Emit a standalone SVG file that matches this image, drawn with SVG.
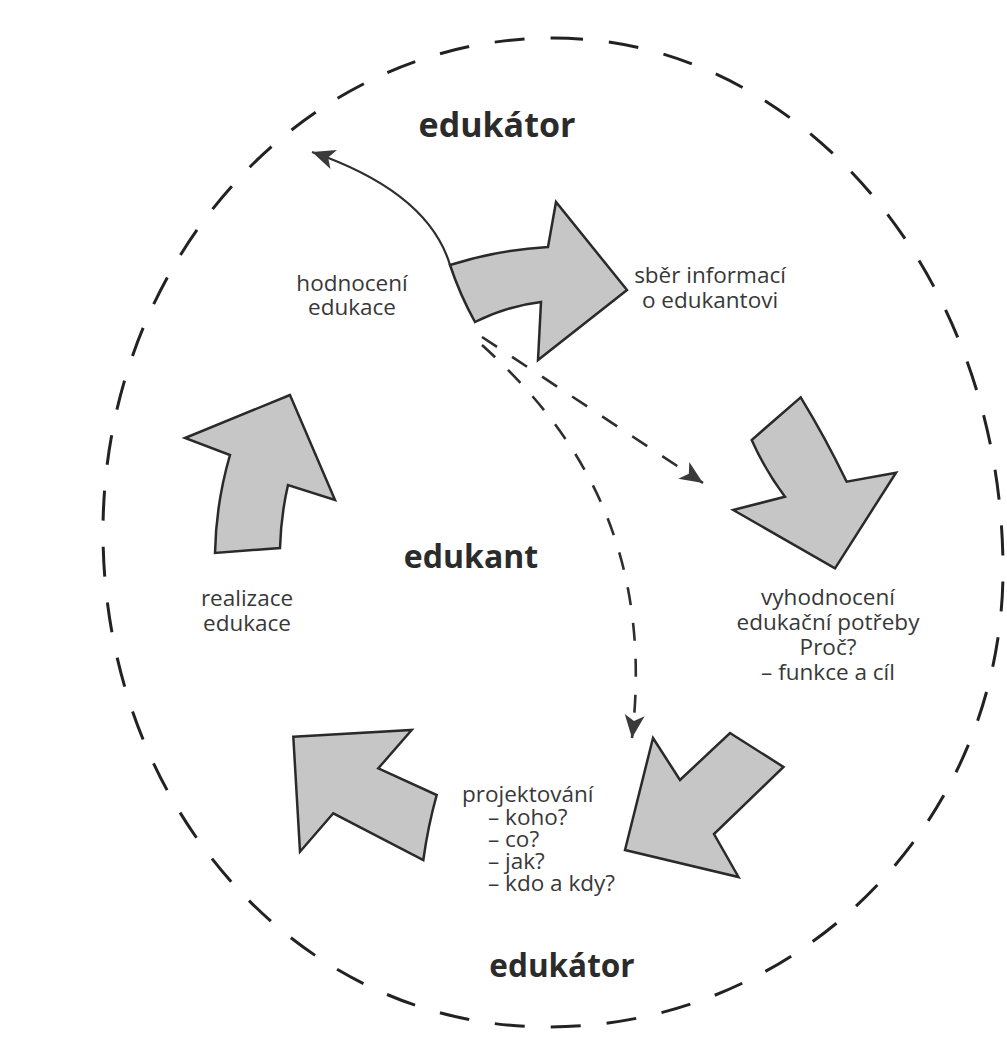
<svg xmlns="http://www.w3.org/2000/svg" width="1007" height="1042" viewBox="0 0 1007 1042">
<style>
.bg{fill:#ffffff}
.ring{fill:none;stroke:#222;stroke-width:3;stroke-dasharray:30 26}
.blk{fill:#c6c6c6;stroke:#2a2a2a;stroke-width:2.5;stroke-linejoin:miter}
.title{font-family:"Open Sans","Noto Sans",sans-serif;font-weight:700;font-size:34px;fill:#2b2b2b}
.lbl{font-family:"Open Sans","Noto Sans",sans-serif;font-size:22.5px;fill:#383838}
.mid{text-anchor:middle}
.solid{fill:none;stroke:#2e2e2e;stroke-width:2.2}
.dash{fill:none;stroke:#2e2e2e;stroke-width:2.6;stroke-dasharray:18 18}
</style>
<defs>
<marker id="ah" viewBox="-2 -11 27 22" markerWidth="27" markerHeight="22" refX="23" refY="0" orient="auto" markerUnits="userSpaceOnUse">
<path d="M0,-10 L23,0 L0,10 L6,0 Z" fill="#3a3a3a"/>
</marker>
</defs>
<rect class="bg" x="0" y="0" width="1007" height="1042"/>
<g id="boundary">
<path class="ring" d="M553,38 C801,38 1003,276 1003,570 C1003,822 799,1027 548,1027 C297,1027 103,805 103,532 C103,259 305,38 553,38 Z"/>
</g>
<g id="edukator-top"><text class="title mid" x="497" y="137">edukátor</text></g>
<g id="edukant"><text class="title mid" x="471" y="568" style="font-size:32px">edukant</text></g>
<g id="edukator-bottom"><text class="title mid" x="562" y="977" style="font-size:31.5px">edukátor</text></g>
<g id="sber">
<path class="blk" d="M450,265 Q497,250 548,247 L556,202 L627,290 L538,360 L541,302 Q507,306 475,322 Q460,295 450,265 Z"/>
<text class="lbl mid" x="710" y="283">sběr informací</text>
<text class="lbl mid" x="710" y="308">o edukantovi</text>
</g>
<g id="vyhodnoceni">
<path class="blk" d="M800.7,397.3 Q825,437 846.7,481.7 L896,472.7 L835,568.3 L733.3,510 L785,496.7 Q765,470 751.7,440 Z"/>
<text class="lbl mid" x="828" y="605">vyhodnocení</text>
<text class="lbl mid" x="828" y="630">edukační potřeby</text>
<text class="lbl mid" x="828" y="655">Proč?</text>
<text class="lbl mid" x="828" y="680">– funkce a cíl</text>
</g>
<g id="projektovani">
<path class="blk" d="M653,738 L680,780 L730,733 L783.5,767 L714,834 L738.5,877 L625,850 Z"/>
<text class="lbl" x="462" y="802">projektování</text>
<text class="lbl" x="488" y="825">– koho?</text>
<text class="lbl" x="488" y="847">– co?</text>
<text class="lbl" x="488" y="869">– jak?</text>
<text class="lbl" x="488" y="891">– kdo a kdy?</text>
</g>
<g id="realizace">
<path class="blk" d="M293.3,736.7 L411.7,730 L378.3,768.3 L436.7,795 Q428,826 423.3,860 L333.3,813.3 L300,851.7 Z"/>
<path class="blk" d="M290,395 L185,438 L230,455 Q216,503 215,553 L280,548 Q281,515 288,485 L335,500 Z"/>
<text class="lbl mid" x="247" y="606">realizace</text>
<text class="lbl mid" x="247" y="631">edukace</text>
</g>
<g id="hodnoceni">
<text class="lbl mid" x="352" y="291">hodnocení</text>
<text class="lbl mid" x="352" y="315">edukace</text>
</g>
<g id="connectors">
<path class="solid" d="M450,265 Q428,192 312,152" marker-end="url(#ah)"/>
<path class="dash" d="M482,337 L703,483" marker-end="url(#ah)"/>
<path class="dash" d="M482,345 C570,425 655,540 632,738" marker-end="url(#ah)"/>
</g>
</svg>
